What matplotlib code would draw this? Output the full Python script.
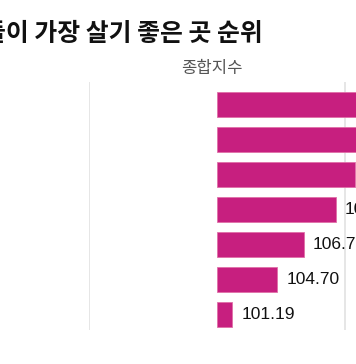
import matplotlib
matplotlib.use("Agg")
import matplotlib.pyplot as plt

plt.rcParams['font.family'] = ['Noto Sans CJK KR', 'DejaVu Sans']

# 종합지수 (top bars run past the right edge of the crop)
values = [112.50, 111.64, 110.78, 109.30, 106.79, 104.70, 101.19]
labels = ["112.50", "111.64", "110.78", "109.30", "106.79", "104.70", "101.19"]
base = 100
grid_x = [90, 110]

bar_color = "#c71f7f"
x_max = 90 + 267 / 12.8

fig = plt.figure(figsize=(3.56, 3.64), dpi=100)
ax = fig.add_axes([89 / 356, (364 - 330) / 364, 1 - 89 / 356, (330 - 82) / 364])

for g in grid_x:
    ax.axvline(g, color="#e2e2e2", lw=1.2, zorder=0)

pos = list(range(len(values)))
widths = [v - base for v in values]
ax.barh(pos, widths, left=base, height=0.71, color=bar_color,
        edgecolor="#e070a8", linewidth=0.6, zorder=2)

for p, v, t in zip(pos, values, labels):
    if v > x_max - 1:
        continue  # label falls outside the cropped picture
    ax.annotate(t, (v, p), xytext=(6.5, 0), textcoords="offset points",
                va="center", ha="left", fontsize=12.5, color="#111111",
                family=["Liberation Sans", "DejaVu Sans"],
                annotation_clip=False)

ax.set_xlim(90, x_max)
ax.set_ylim(6 + 15.5 / 35, -22.5 / 35)
ax.axis("off")

fig.text(-0.047, 1 - 34 / 364, "들이 가장 살기 좋은 곳 순위", fontsize=17.9,
         fontweight="bold", va="center", ha="left", color="#111111")
fig.text(212 / 356, 1 - 68.5 / 364, "종합지수", fontsize=12,
         va="center", ha="center", color="#555555")

fig.savefig("out.png", dpi=100)
